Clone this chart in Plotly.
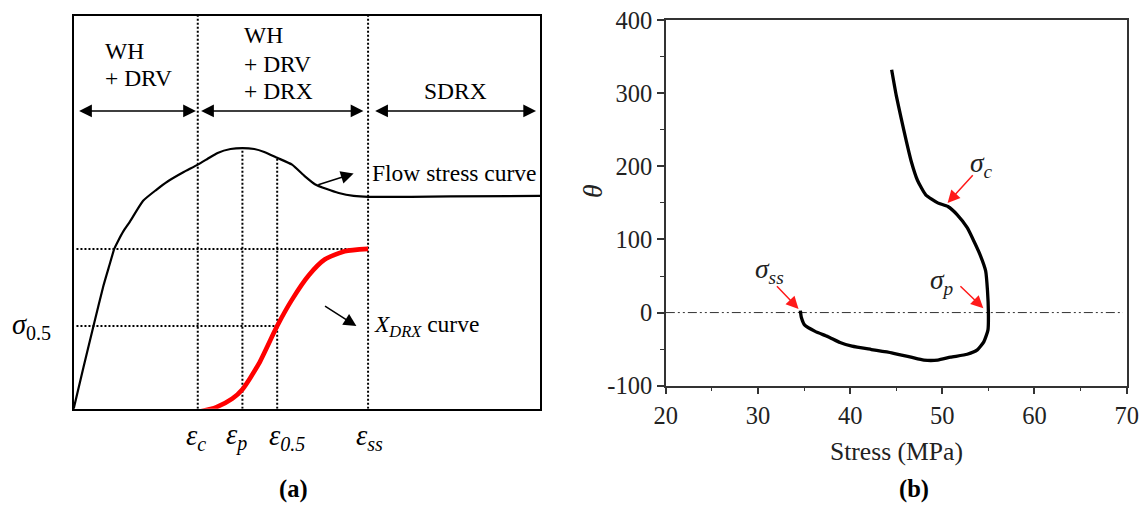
import plotly.graph_objects as go

FONT = "Liberation Serif"
W, H = 1148, 511

# The page keeps the browser's 8px body margin and the whole page
# (figure + margins) is fitted back into the window, so positions given in
# window pixels are converted to figure pixels before use.
BODY_MARGIN = 8
SX = W / (W + 2 * BODY_MARGIN)
SY = H / (H + 2 * BODY_MARGIN)
FS = (SX * SY) ** -0.5       # font enlargement that offsets the fit


def px_x(p):
    return (p / SX - BODY_MARGIN) / W


def px_y(p):
    return 1 - (p / SY - BODY_MARGIN) / H


def fs(size):
    return round(size * FS, 1)


# ---------- (a) schematic: normalised strain (0-1) vs normalised stress / DRX fraction (0-1)
flow_strain = [0.0, 0.0213, 0.0426, 0.0638, 0.0766, 0.0872, 0.0950, 0.1064, 0.1206, 0.1489, 0.1766,
               0.2021, 0.2340, 0.2660, 0.2872, 0.3085, 0.3362, 0.3617, 0.3872, 0.4085, 0.4362,
               0.4681, 0.4957, 0.5170, 0.5426, 0.5681, 0.6000, 0.6319, 0.8085, 1.0]
flow_stress = [0.0, 0.1069, 0.2113, 0.3132, 0.3654, 0.4077, 0.4267, 0.4516, 0.4764, 0.5295, 0.5568,
               0.5792, 0.6015, 0.6214, 0.6363, 0.6513, 0.6612, 0.6637, 0.6612, 0.6537, 0.6388,
               0.6214, 0.5916, 0.5717, 0.5593, 0.5493, 0.5419, 0.5394, 0.5407, 0.5419]

xdrx_strain = [0.266, 0.305, 0.340, 0.362, 0.397, 0.436, 0.468, 0.504, 0.538, 0.581, 0.631]
xdrx_level = [-0.008, 0.004, 0.026, 0.050, 0.115, 0.2105, 0.278, 0.340, 0.380, 0.401, 0.407]

mark_labels = ["<i>ε</i><sub><i>c</i></sub>", "<i>ε</i><sub><i>p</i></sub>",
               "<i>ε</i><sub><i>0.5</i></sub>", "<i>ε</i><sub><i>ss</i></sub>"]
mark_strain = [0.266, 0.3617, 0.4362, 0.631]
mark_top = [1.0, 0.6637, 0.6388, 1.0]          # where each dotted strain marker stops
mark_label_shift = [-2, -6, 10, 1]

sigma_half = 0.2105       # sigma_0.5 level
xdrx_full = 0.407         # level reached at steady state

regime_lines = ["WH", "+ DRV", "WH", "+ DRV", "+ DRX", "SDRX"]
regime_line_x = [0.0638, 0.0638, 0.3617, 0.3617, 0.3617, 0.819]
regime_line_y = [0.9105, 0.8427, 0.9503, 0.8775, 0.8096, 0.8079]
regime_anchor = ["left", "left", "left", "left", "left", "center"]
regime_start = [0.0085, 0.270, 0.643]
regime_end = [0.262, 0.621, 0.991]
regime_arrow_y = 0.758

# ---------- (b) work-hardening rate vs stress
stress_mpa = [44.5, 45.0, 45.55, 46.1, 46.6, 47.3, 48.2, 49.5, 50.6, 51.6, 52.7, 53.3, 54.1,
              54.7, 54.9, 55.0, 54.95, 54.5, 53.8, 52.7, 50.9, 49.5, 48.0, 46.6, 44.5, 42.3,
              40.2, 38.9, 37.6, 36.2, 35.1, 34.7, 34.6]
theta = [332, 297, 265, 234, 208, 181, 161, 150, 145, 134, 116, 101, 79,
         57, 30, 0, -24, -40, -51, -57, -61, -65, -65, -61, -55, -50.5,
         -46, -41, -33, -25.7, -17.6, -6.3, 2.7]

x_ticks = [20, 30, 40, 50, 60, 70]
y_ticks = [-100, 0, 100, 200, 300, 400]
y_ticktext = ["-100", "0", "100", "200", "300", "400"]

point_labels = ["<i>σ</i><sub><i>c</i></sub>", "<i>σ</i><sub><i>ss</i></sub>", "<i>σ</i><sub><i>p</i></sub>"]
point_label_x = [54.3, 31.2, 50.0]
point_label_y = [203, 58, 42]
arrow_head_x = [50.57, 34.4, 54.45]
arrow_head_y = [150, 5, 6]
arrow_tail_x = [53.45, 31.9, 51.8]
arrow_tail_y = [190, 38, 38]

fig = go.Figure()

# ---- panel (a) curves
fig.add_trace(go.Scatter(x=flow_strain, y=flow_stress, mode="lines",
                         line=dict(color="black", width=2.2, shape="spline", smoothing=0.5),
                         xaxis="x", yaxis="y", showlegend=False, cliponaxis=False))
fig.add_trace(go.Scatter(x=xdrx_strain, y=xdrx_level, mode="lines",
                         line=dict(color="#ff0000", width=4.6, shape="spline", smoothing=0.6),
                         xaxis="x", yaxis="y", showlegend=False, cliponaxis=False))

shapes = []
dotted = dict(color="black", width=2, dash="2px,2px")
for xs, top in zip(mark_strain, mark_top):
    shapes.append(dict(type="line", xref="x", yref="y", x0=xs, x1=xs, y0=0, y1=top,
                       line=dotted, layer="below"))
shapes.append(dict(type="line", xref="x", yref="y", x0=0.006, x1=mark_strain[3],
                   y0=xdrx_full, y1=xdrx_full, line=dotted, layer="below"))
shapes.append(dict(type="line", xref="x", yref="y", x0=0.006, x1=mark_strain[2],
                   y0=sigma_half, y1=sigma_half, line=dotted, layer="below"))

# ---- panel (b) curve and theta = 0 reference line
shapes.append(dict(type="line", xref="x2", yref="y2", x0=20, x1=69.6, y0=0, y1=0,
                   line=dict(color="#333", width=1, dash="9px,3px,2px,3px,2px,3px"),
                   layer="below"))
fig.add_trace(go.Scatter(x=stress_mpa, y=theta, mode="lines",
                         line=dict(color="black", width=3.3, shape="spline", smoothing=0.5),
                         xaxis="x2", yaxis="y2", showlegend=False))

ann = []
txt = dict(family=FONT, size=fs(23), color="black")
for t, x, y, a in zip(regime_lines, regime_line_x, regime_line_y, regime_anchor):
    ann.append(dict(xref="x", yref="y", x=x, y=y, text=t, showarrow=False, xanchor=a,
                    yanchor="middle", font=txt))
for x0, x1 in zip(regime_start, regime_end):
    ann.append(dict(xref="x", yref="y", axref="x", ayref="y", x=x1, y=regime_arrow_y,
                    ax=x0, ay=regime_arrow_y, text="", showarrow=True, arrowside="end+start",
                    arrowhead=2, startarrowhead=2, arrowsize=1.7, startarrowsize=1.7,
                    arrowwidth=1.5, arrowcolor="black", standoff=0, startstandoff=0))
# flow stress curve pointer
ann.append(dict(xref="x", yref="y", axref="x", ayref="y", x=0.600, y=0.599, ax=0.521, ay=0.569,
                text="", showarrow=True, arrowhead=2, arrowsize=1.7, arrowwidth=1.5,
                arrowcolor="black", standoff=0))
ann.append(dict(xref="x", yref="y", x=0.636, y=0.599, text="Flow stress curve", showarrow=False,
                xanchor="left", yanchor="middle", font=txt))
# X_DRX pointer
ann.append(dict(xref="x", yref="y", axref="x", ayref="y", x=0.606, y=sigma_half, ax=0.5355,
                ay=0.264, text="", showarrow=True, arrowhead=2, arrowsize=1.7, arrowwidth=1.5,
                arrowcolor="black", standoff=0))
ann.append(dict(xref="x", yref="y", x=0.640, y=sigma_half, text="<i>X</i><sub><i>DRX</i></sub> curve",
                showarrow=False, xanchor="left", yanchor="middle", font=txt))
for lab, xs, sh in zip(mark_labels, mark_strain, mark_label_shift):
    ann.append(dict(xref="x", yref="paper", x=xs, y=px_y(442), text=lab, showarrow=False,
                    xanchor="center", yanchor="middle", xshift=sh,
                    font=dict(family=FONT, size=fs(28), color="black")))
ann.append(dict(xref="paper", yref="y", x=px_x(28), y=sigma_half, text="<i>σ</i><sub>0.5</sub>",
                showarrow=False, xanchor="center", yanchor="middle",
                font=dict(family=FONT, size=fs(28), color="black")))

# ---- panel (b) annotations
for lab, lx, ly in zip(point_labels, point_label_x, point_label_y):
    ann.append(dict(xref="x2", yref="y2", x=lx, y=ly, text=lab, showarrow=False,
                    xanchor="center", yanchor="middle",
                    font=dict(family=FONT, size=fs(27), color="#222")))
for hx, hy, tx, ty in zip(arrow_head_x, arrow_head_y, arrow_tail_x, arrow_tail_y):
    ann.append(dict(xref="x2", yref="y2", axref="x2", ayref="y2", x=hx, y=hy, ax=tx, ay=ty,
                    text="", showarrow=True, arrowhead=2, arrowsize=1.65, arrowwidth=1.5,
                    arrowcolor="#ff1a1a", standoff=0))
ann.append(dict(xref="paper", yref="paper", x=px_x(592), y=px_y(190), text="<i>θ</i>",
                showarrow=False, textangle=-90, xanchor="center", yanchor="middle",
                font=dict(family=FONT, size=fs(27), color="#222")))
ann.append(dict(xref="paper", yref="paper", x=px_x(898.5), y=px_y(457), text="Stress (MPa)",
                showarrow=False, xanchor="center", yanchor="middle",
                font=dict(family=FONT, size=fs(25), color="#222")))

# panel captions
ann.append(dict(xref="paper", yref="paper", x=px_x(291), y=px_y(495), text="<b>(a)</b>",
                showarrow=False, xanchor="center", yanchor="middle",
                font=dict(family=FONT, size=fs(24), color="black")))
ann.append(dict(xref="paper", yref="paper", x=px_x(916), y=px_y(495), text="<b>(b)</b>",
                showarrow=False, xanchor="center", yanchor="middle",
                font=dict(family=FONT, size=fs(24), color="black")))

tickfont_b = dict(family=FONT, size=fs(24), color="#222")

fig.update_layout(
    width=W, height=H,
    margin=dict(l=0, r=0, t=0, b=0),
    paper_bgcolor="white", plot_bgcolor="white",
    showlegend=False,
    xaxis=dict(domain=[px_x(70), px_x(540)], range=[0, 1], showgrid=False, zeroline=False,
               showticklabels=False, ticks="", showline=True, linecolor="black", linewidth=2,
               mirror=True, fixedrange=True),
    yaxis=dict(domain=[px_y(413), px_y(10.7)], range=[0, 1], showgrid=False,
               zeroline=False, showticklabels=False, ticks="", showline=True,
               linecolor="black", linewidth=2, mirror=True, fixedrange=True),
    xaxis2=dict(domain=[px_x(666.5), px_x(1130.7)], range=[20, 70], anchor="y2",
                tickmode="array", tickvals=x_ticks, showgrid=False, zeroline=False,
                ticks="outside", ticklen=7, tickwidth=1.5, tickcolor="#333",
                showline=True, linecolor="#333", linewidth=1.5, mirror=True,
                tickfont=tickfont_b, ticklabeloverflow="allow",
                minor=dict(tickmode="linear", tick0=25, dtick=10, ticks="outside",
                           ticklen=4, tickwidth=1.2, tickcolor="#333")),
    yaxis2=dict(domain=[px_y(389.3), px_y(15)], range=[-100, 400], anchor="x2",
                tickmode="array", tickvals=y_ticks, ticktext=y_ticktext, showgrid=False,
                zeroline=False, ticks="outside", ticklen=7, tickwidth=1.5, tickcolor="#333",
                showline=True, linecolor="#333", linewidth=1.5, mirror=True,
                tickfont=tickfont_b, ticklabeloverflow="allow",
                minor=dict(tickmode="linear", tick0=-50, dtick=100, ticks="outside",
                           ticklen=4, tickwidth=1.2, tickcolor="#333")),
    shapes=shapes,
    annotations=ann,
)

fig.write_html("out.html")
